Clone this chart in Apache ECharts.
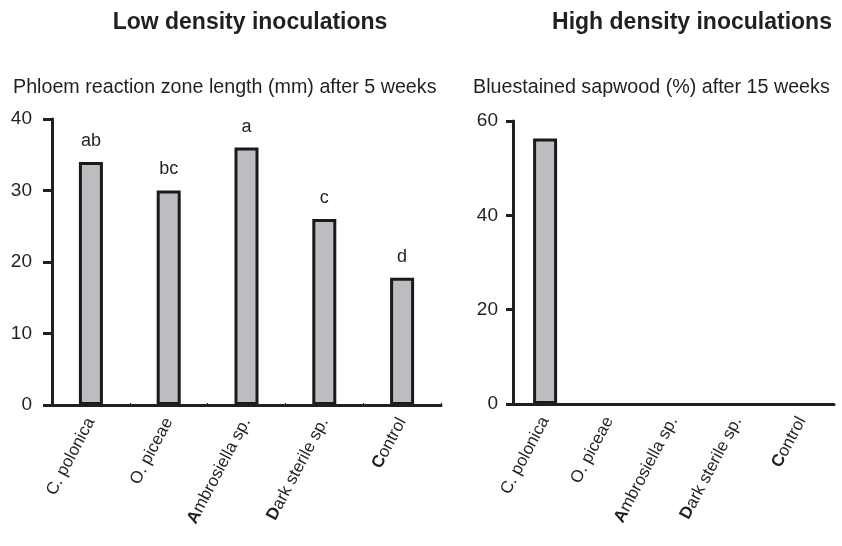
<!DOCTYPE html>
<html>
<head>
<meta charset="utf-8">
<script src="https://cdn.jsdelivr.net/npm/echarts@6/dist/echarts.min.js"></script>
<style>
html,body{margin:0;padding:0;background:#fff;}
#chart{width:842px;height:546px;}
</style>
</head>
<body>
<div id="chart"></div>
<script>
const categories = ['C. polonica', 'O. piceae', 'Ambrosiella sp.', 'Dark sterile sp.', 'Control'];
const lowDensityValues = [34, 30, 36, 26, 17.8];
const lowDensityLetters = ['ab', 'bc', 'a', 'c', 'd'];
const highDensityValues = [56.3, 0, 0, 0, 0];
const leftTicks = [0, 10, 20, 30, 40];
const rightTicks = [0, 20, 40, 60];
const titles = ['Low density inoculations', 'High density inoculations'];
const subtitles = ['Phloem reaction zone length (mm) after 5 weeks', 'Bluestained sapwood (%) after 15 weeks'];

const ink = '#231f20';
const font = '"Liberation Sans", Arial, sans-serif';
const boldFirst = { 2: true, 3: true, 4: true };

function catLabel(value, idx) {
  if (boldFirst[idx]) {
    return '{b|' + value.charAt(0) + '}{n|' + value.slice(1) + '}';
  }
  return '{n|' + value + '}';
}

function barData(values) {
  return values.map(function (v) {
    return v === 0 ? { value: v, itemStyle: { borderWidth: 0, opacity: 0 } } : v;
  });
}

const xLabel = {
  rotate: 62,
  margin: 14,
  color: ink,
  fontFamily: font,
  fontSize: 17,
  formatter: catLabel,
  rich: {
    b: { fontWeight: 'bold', fontSize: 17, fontFamily: font, color: ink },
    n: { fontSize: 17, fontFamily: font, color: ink }
  }
};

const chart = echarts.init(document.getElementById('chart'), null, { renderer: 'canvas' });
chart.setOption({
  backgroundColor: '#ffffff',
  animation: false,
  title: [
    { text: titles[0], left: 250, top: 11, textAlign: 'center', padding: 0,
      textStyle: { fontFamily: font, fontSize: 23, fontWeight: 'bold', color: ink } },
    { text: titles[1], left: 692, top: 11, textAlign: 'center', padding: 0,
      textStyle: { fontFamily: font, fontSize: 23, fontWeight: 'bold', color: ink } },
    { text: subtitles[0], left: 13, top: 78, padding: 0,
      textStyle: { fontFamily: font, fontSize: 19.7, fontWeight: 'normal', color: ink } },
    { text: subtitles[1], left: 473, top: 78, padding: 0,
      textStyle: { fontFamily: font, fontSize: 19.7, fontWeight: 'normal', color: ink } }
  ],
  grid: [
    { left: 52, top: 119, width: 389, height: 286 },
    { left: 513, top: 121, width: 321, height: 283 }
  ],
  xAxis: [
    { type: 'category', gridIndex: 0, data: categories,
      axisLine: { lineStyle: { color: ink, width: 3 } },
      axisTick: { show: true, inside: true, length: 2, lineStyle: { color: ink, width: 1 } },
      axisLabel: xLabel },
    { type: 'category', gridIndex: 1, data: categories,
      axisLine: { lineStyle: { color: ink, width: 3 } },
      axisTick: { show: false },
      axisLabel: xLabel }
  ],
  yAxis: [
    { type: 'value', gridIndex: 0, min: leftTicks[0], max: leftTicks[leftTicks.length - 1], interval: 10,
      axisLine: { show: true, lineStyle: { color: ink, width: 3 } },
      axisTick: { show: true, length: 9, lineStyle: { color: ink, width: 3 } },
      splitLine: { show: false },
      axisLabel: { margin: 20, color: ink, fontFamily: font, fontSize: 19 } },
    { type: 'value', gridIndex: 1, min: rightTicks[0], max: rightTicks[rightTicks.length - 1], interval: 20,
      axisLine: { show: true, lineStyle: { color: ink, width: 3 } },
      axisTick: { show: true, length: 7, lineStyle: { color: ink, width: 3 } },
      splitLine: { show: false },
      axisLabel: { margin: 15, color: ink, fontFamily: font, fontSize: 19 } }
  ],
  series: [
    { type: 'bar', xAxisIndex: 0, yAxisIndex: 0, data: barData(lowDensityValues), barWidth: 24, z: -1,
      itemStyle: { color: '#bcbdc1', borderColor: '#1a1a1a', borderWidth: 3 },
      label: { show: true, position: 'top', distance: 12, color: ink, fontFamily: font, fontSize: 18,
        formatter: function (p) { return lowDensityLetters[p.dataIndex]; } } },
    { type: 'bar', xAxisIndex: 1, yAxisIndex: 1, data: barData(highDensityValues), barWidth: 24, z: -1,
      itemStyle: { color: '#bcbdc1', borderColor: '#1a1a1a', borderWidth: 3 } }
  ]
});
</script>
</body>
</html>
